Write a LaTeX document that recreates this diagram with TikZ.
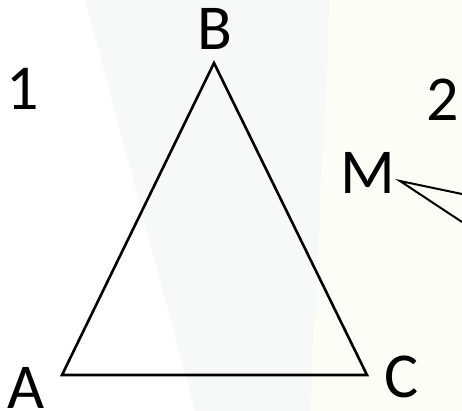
\documentclass[tikz,border=0pt]{standalone}
\usepackage{fontspec}
\setmainfont{Carlito}
\usepackage{xcolor}
\definecolor{bgcream}{HTML}{FDFDF8}
\definecolor{bgband}{HTML}{F7F8F8}
\usetikzlibrary{positioning, calc}

\begin{document}
\begin{tikzpicture}[
        x=1pt, y=-1pt,
        label_node/.style={
            inner sep=0pt,
            font=\fontsize{64}{64}\selectfont
        },
        edge/.style={
            draw=black,
            line width=2.6pt,
            line join=miter
        },
        pointer/.style={
            draw=black,
            line width=2pt
        }
    ]

    % Background
    \useasboundingbox (0,0) rectangle (462,411);
    \fill[bgcream] (0,0) rectangle (462,411);
    \fill[bgband] (85,0) -- (330,0) -- (310,411) -- (195,411) -- cycle;
    \fill[white] (0,0) -- (85,0) -- (195,411) -- (0,411) -- cycle;

    % Triangle vertices
    \coordinate (A) at (62,375);
    \coordinate (B) at (214,63);
    \coordinate (C) at (367,375);

    % Labels
    \node[label_node] (labB) at (215,29) {B};
    \node[label_node] (labA) at (26,388) {A};
    \node[label_node] (labC) at (402,377) {C};
    \node[label_node] (one) at (23,89) {1};
    \node[label_node] (two) at (443,100) {2};
    \node[label_node] (labM) at (368,173) {M};

    % Triangle
    \draw[edge] (A) -- (B) -- (C) -- cycle;

    % Lines from M
    \coordinate (Mtip) at (400,181);
    \coordinate (Mup) at (462,194);
    \coordinate (Mdown) at (462,222);
    \draw[pointer] (Mup) -- (Mtip) -- (Mdown);

\end{tikzpicture}
\end{document}
